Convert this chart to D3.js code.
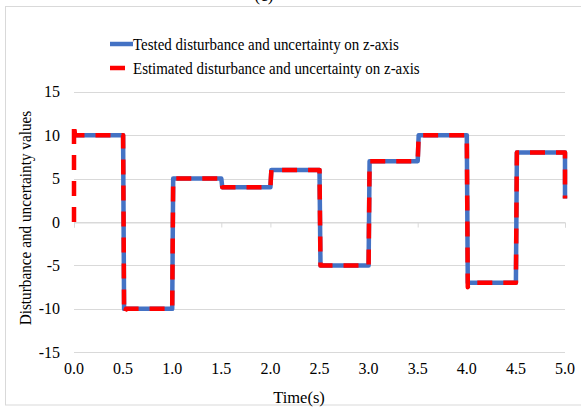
<!DOCTYPE html>
<html>
<head>
<meta charset="utf-8">
<script src="https://cdn.jsdelivr.net/npm/d3@7"></script>
<style>
  body { margin: 0; background: #fff; }
  svg text { font-family: "Liberation Serif", "Times New Roman", serif; }
</style>
</head>
<body>
<div id="chart-container"></div>
<script>
// data
var testedTime  = [0, 0.5, 0.51, 1.0, 1.01, 1.5, 1.51, 2.0, 2.01, 2.5, 2.51, 3.0, 3.01, 3.5, 3.51, 4.0, 4.01, 4.5, 4.51, 5.0, 5.0];
var testedValue = [10, 10, -10, -10, 5, 5, 4, 4, 6, 6, -5, -5, 7, 7, 10, 10, -7, -7, 8, 8, 2.7];

var estTime  = [0, 0, 0.01, 0.5, 0.51, 0.53, 1.0, 1.01, 1.5, 1.51, 2.0, 2.01, 2.5, 2.51, 3.0, 3.01, 3.5, 3.51, 4.0, 4.01, 4.03, 4.5, 4.51, 5.0, 5.0];
var estValue = [0, 11.3, 10, 10, -10.5, -10, -10, 5, 5, 4, 4, 6, 6, -5, -5, 7, 7, 10, 10, -7.5, -7, -7, 8, 8, 2.7];

var xTicks = [0, 0.5, 1.0, 1.5, 2.0, 2.5, 3.0, 3.5, 4.0, 4.5, 5.0];
var yTicks = [-15, -10, -5, 0, 5, 10, 15];

var seriesNames = ["Tested disturbance and uncertainty on z-axis",
                   "Estimated disturbance and uncertainty on z-axis"];

var serif = "'Liberation Serif', 'Times New Roman', serif";
var width = 581, height = 408;

var svg = d3.select("#chart-container")
    .append("svg")
    .attr("width", width)
    .attr("height", height);

// outer frame
svg.append("rect")
    .attr("x", 5.5).attr("y", 6.5)
    .attr("width", 620).attr("height", 398.5)
    .attr("fill", "#fff")
    .attr("stroke", "#d9d9d9");

// panel title, mostly cut off above the frame as in the original
svg.append("text")
    .attr("x", 264).attr("y", 1)
    .attr("text-anchor", "middle")
    .attr("font-family", serif)
    .attr("font-size", 17)
    .text("(c)");

var xScale = d3.scaleLinear().domain([0, 5]).range([74, 565]);
var yScale = d3.scaleLinear().domain([-15, 15]).range([352.3, 91.7]);

// gridlines
svg.append("g")
    .selectAll("line")
    .data(yTicks)
    .enter()
    .append("line")
    .attr("x1", xScale(0)).attr("x2", xScale(5))
    .attr("y1", function (d) { return Math.round(yScale(d)) + 0.5; })
    .attr("y2", function (d) { return Math.round(yScale(d)) + 0.5; })
    .attr("stroke", "#d9d9d9")
    .attr("stroke-width", 1);

// category axis crossing at zero, ticks below
var xAxis = d3.axisBottom(xScale)
    .tickValues(xTicks)
    .tickSize(5)
    .tickFormat("");
var xg = svg.append("g")
    .attr("transform", "translate(0," + (Math.round(yScale(0)) + 0.5) + ")")
    .call(xAxis);
xg.select(".domain").attr("stroke", "#d9d9d9");
xg.selectAll(".tick line").attr("stroke", "#d9d9d9");

// x tick labels along the bottom
svg.append("g")
    .selectAll("text")
    .data(xTicks)
    .enter()
    .append("text")
    .attr("x", function (d) { return xScale(d); })
    .attr("y", 374)
    .attr("text-anchor", "middle")
    .attr("font-family", serif)
    .attr("font-size", 16)
    .text(function (d) { return d.toFixed(1); });

// y axis labels
var yAxis = d3.axisLeft(yScale)
    .tickValues(yTicks)
    .tickSize(0)
    .tickPadding(14)
    .tickFormat(function (d) { return String(d); });
var yg = svg.append("g")
    .attr("transform", "translate(74,0)")
    .call(yAxis);
yg.attr("font-family", serif).attr("font-size", 16);
yg.select(".domain").remove();
yg.selectAll("text").attr("fill", "#000");

// axis titles (original text looks a bit squeezed sideways)
svg.append("text")
    .attr("transform", "translate(31,218) rotate(-90) scale(0.93,1)")
    .attr("text-anchor", "middle")
    .attr("font-family", serif)
    .attr("font-size", 16.4)
    .text("Disturbance and uncertainty values");

svg.append("text")
    .attr("x", 299).attr("y", 403)
    .attr("text-anchor", "middle")
    .attr("font-family", serif)
    .attr("font-size", 16.5)
    .text("Time(s)");

// series
var line = d3.line()
    .x(function (d) { return xScale(d.t); })
    .y(function (d) { return yScale(d.v); });

var tested = testedTime.map(function (t, i) { return { t: t, v: testedValue[i] }; });
var estimated = estTime.map(function (t, i) { return { t: t, v: estValue[i] }; });

svg.append("path")
    .datum(tested)
    .attr("d", line)
    .attr("fill", "none")
    .attr("stroke", "#4472c4")
    .attr("stroke-width", 4.5)
    .attr("stroke-linejoin", "round");

svg.append("path")
    .datum(estimated)
    .attr("d", line)
    .attr("fill", "none")
    .attr("stroke", "#ff0000")
    .attr("stroke-width", 4.5)
    .attr("stroke-dasharray", "15,11")
    .attr("stroke-linejoin", "round");

// legend
var legend = svg.append("g");
var legendRows = [
    { name: seriesNames[0], color: "#4472c4", x2: 133, y: 44 },
    { name: seriesNames[1], color: "#ff0000", x2: 125, y: 68 }
];
legend.selectAll("line")
    .data(legendRows)
    .enter()
    .append("line")
    .attr("x1", 110)
    .attr("x2", function (d) { return d.x2; })
    .attr("y1", function (d) { return d.y; })
    .attr("y2", function (d) { return d.y; })
    .attr("stroke", function (d) { return d.color; })
    .attr("stroke-width", 4.5);
legend.selectAll("text")
    .data(legendRows)
    .enter()
    .append("text")
    .attr("transform", function (d) {
        return "translate(133," + (d.y + 6) + ") scale(0.89,1)";
    })
    .attr("font-family", serif)
    .attr("font-size", 16.8)
    .text(function (d) { return d.name; });
</script>
</body>
</html>
